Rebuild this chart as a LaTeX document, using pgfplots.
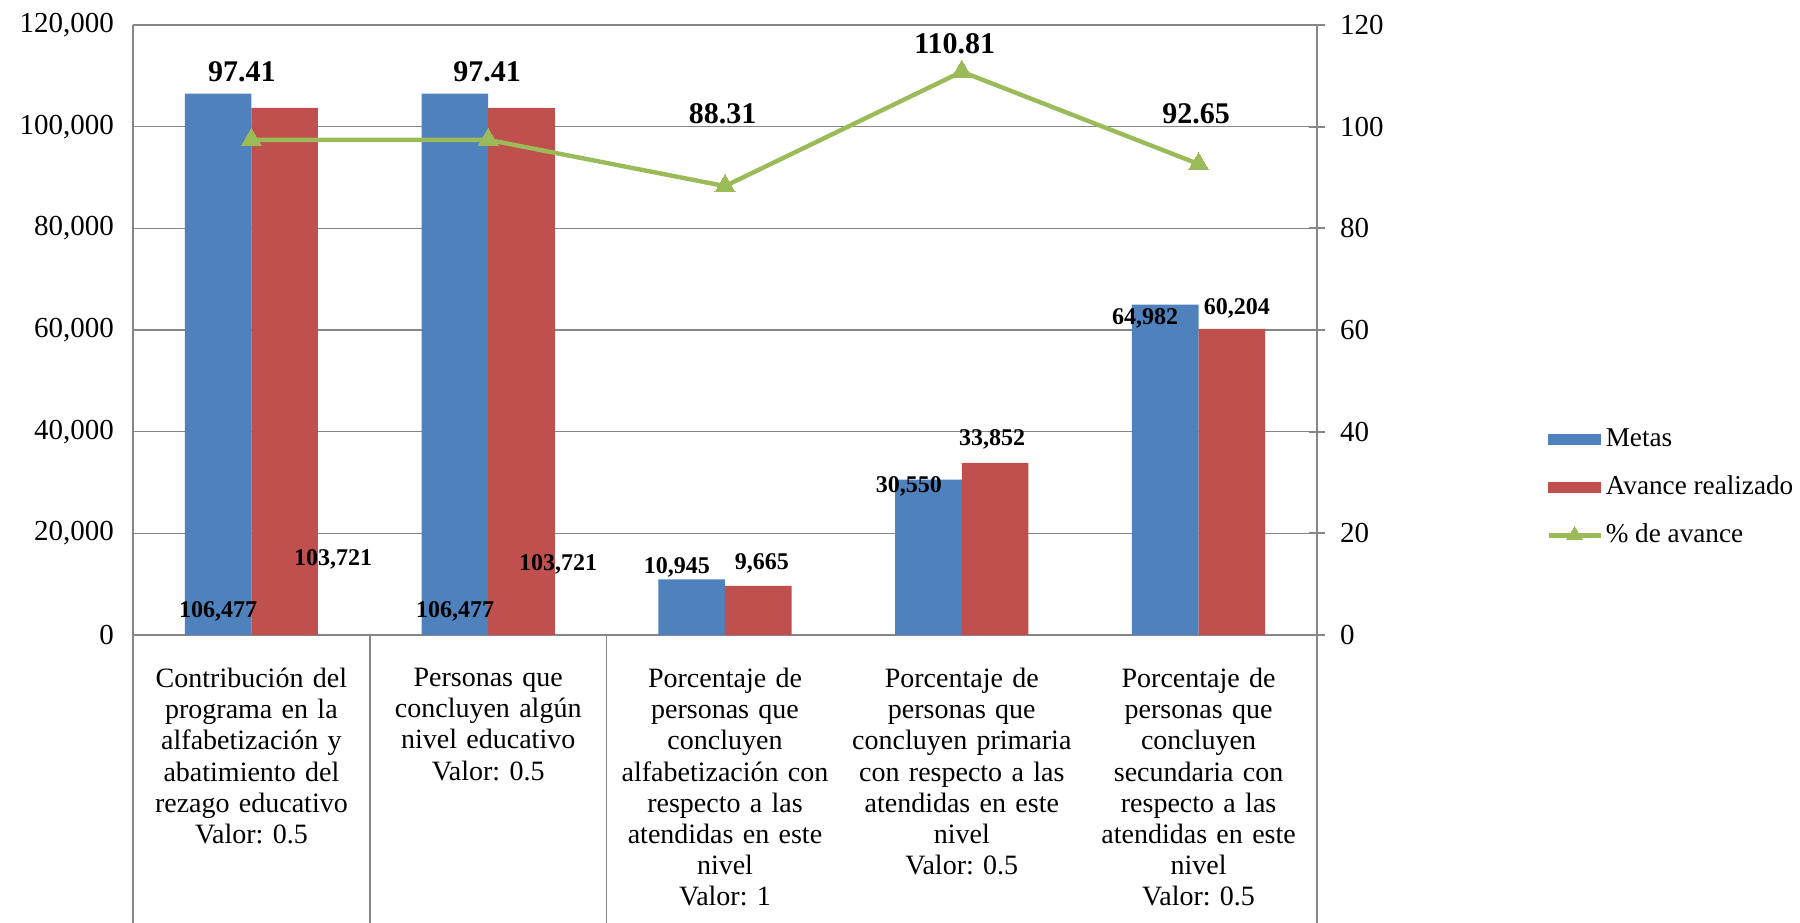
\documentclass[border=0pt]{standalone}
\usepackage{fontspec}
\setmainfont{Liberation Serif}
\usepackage{pgfplots}
\pgfplotsset{compat=1.18}
\definecolor{cblue}{HTML}{4F81BD}
\definecolor{cred}{HTML}{C0504D}
\definecolor{cgreen}{HTML}{9BBB59}
\definecolor{cgrid}{HTML}{868686}
\frenchspacing
\begin{document}
\begin{tikzpicture}
\pgfplotsset{
  base/.style={at={(0,0)}, anchor=south west, width=592pt, height=305pt,
    scale only axis, xmin=-0.5, xmax=4.5, clip=false,
    /pgf/number format/assume math mode=true},
}
\tikzset{blbl/.style={font=\bfseries\fontsize{12}{14}\selectfont, inner sep=0pt},
         llbl/.style={font=\bfseries\fontsize{15}{18}\selectfont, inner sep=0pt}}
\begin{axis}[base,
  ybar=0pt, bar width=33.3pt,
  ymin=0, ymax=120000, ytick={0,20000,...,120000},
  scaled y ticks=false,
  y tick label style={/pgf/number format/fixed, /pgf/number format/1000 sep={,},
     font=\fontsize{14.5}{16}\selectfont, xshift=-6pt},
  ymajorgrids, grid style={cgrid, line width=0.75pt},
  axis x line*=bottom, axis y line*=left,
  axis line style={-, cgrid, line width=0.9pt},
  major tick length=0pt,
  xtick={0,...,4},
  xticklabels={{Contribución del\\programa en la\\alfabetización y\\abatimiento del\\rezago educativo\\Valor: 0.5},
    {Personas que\\concluyen algún\\nivel educativo\\Valor: 0.5},
    {Porcentaje de\\personas que\\concluyen\\alfabetización con\\respecto a las\\atendidas en este\\nivel\\Valor: 1},
    {Porcentaje de\\personas que\\concluyen primaria\\con respecto a las\\atendidas en este\\nivel\\Valor: 0.5},
    {Porcentaje de\\personas que\\concluyen\\secundaria con\\respecto a las\\atendidas en este\\nivel\\Valor: 0.5}},
  x tick label style={font=\frenchspacing\fontsize{14}{15.6}\selectfont, text width=118pt, align=center, anchor=north, yshift=-13pt},
]
\addplot[fill=cblue, draw=none] coordinates {(0,106477) (1,106477) (2,10945) (3,30550) (4,64982)};
\addplot[fill=cred, draw=none] coordinates {(0,103721) (1,103721) (2,9665) (3,33852) (4,60204)};
\node[blbl] at (axis cs:-0.14,4721) {106,477};
\node[blbl] at (axis cs:0.345,14951) {103,721};
\node[blbl] at (axis cs:0.86,4721) {106,477};
\node[blbl] at (axis cs:1.295,13967) {103,721};
\node[blbl] at (axis cs:1.797,13377) {10,945};
\node[blbl] at (axis cs:2.156,14164) {9,665};
\node[blbl] at (axis cs:2.777,29311) {30,550};
\node[blbl] at (axis cs:3.128,38557) {33,852};
\node[blbl] at (axis cs:3.774,62361) {64,982};
\node[blbl] at (axis cs:4.162,64328) {60,204};
\draw[cgrid, line width=0.9pt] (axis cs:-0.5,0) -- (axis cs:-0.5,-57000);
\draw[cgrid, line width=0.9pt] (axis cs:0.5,0) -- (axis cs:0.5,-57000);
\draw[cgrid, line width=0.9pt] (axis cs:1.5,0) -- (axis cs:1.5,-57000);
\draw[cgrid, line width=0.9pt] (axis cs:4.5,0) -- (axis cs:4.5,-57000);
\end{axis}
\begin{axis}[base,
  ymin=0, ymax=120, ytick={0,20,...,120},
  axis y line*=right, axis x line=none, xtick=\empty,
  axis line style={-, cgrid, line width=0.9pt},
  major tick length=8pt, tick align=center,
  ytick style={cgrid, line width=0.9pt},
  y tick label style={font=\fontsize{14.5}{16}\selectfont, xshift=4pt},
  legend style={at={(1.1934,0.242)}, anchor=west, draw=none, fill=none,
    inner sep=0pt, font=\fontsize{13.6}{16}\selectfont, row sep=7.5pt,
    nodes={inner sep=1.5pt, text height=10.5pt, text depth=3pt}},
  legend cell align=left,
]
\addlegendimage{legend image code/.code={\fill[cblue] (0pt,-2.7pt) rectangle (26pt,2.7pt);}}
\addlegendentry{Metas}
\addlegendimage{legend image code/.code={\fill[cred] (0pt,-2.7pt) rectangle (26pt,2.7pt);}}
\addlegendentry{Avance realizado}
\addplot[color=cgreen, line width=2.2pt, mark=triangle*, mark size=5.8pt,
  mark options={fill=cgreen, line width=0pt},
  legend image code/.code={\draw[cgreen, line width=2.2pt, mark=triangle*, mark size=4.5pt, mark options={fill=cgreen, line width=0pt}, mark repeat=2, mark phase=2] plot coordinates {(0pt,0pt) (13pt,0pt) (26pt,0pt)};}]
  coordinates {(0,97.41) (1,97.41) (2,88.31) (3,110.81) (4,92.65)};
\addlegendentry{\% de avance}
\node[llbl] at (axis cs:-0.04,110.75) {97.41};
\node[llbl] at (axis cs:0.995,110.75) {97.41};
\node[llbl] at (axis cs:1.99,102.5) {88.31};
\node[llbl] at (axis cs:2.97,116.3) {110.81};
\node[llbl] at (axis cs:3.99,102.5) {92.65};
\end{axis}
\pgfresetboundingbox
\path (-66.5pt,-143.5pt) rectangle (833.5pt,317.5pt);
\end{tikzpicture}
\end{document}
